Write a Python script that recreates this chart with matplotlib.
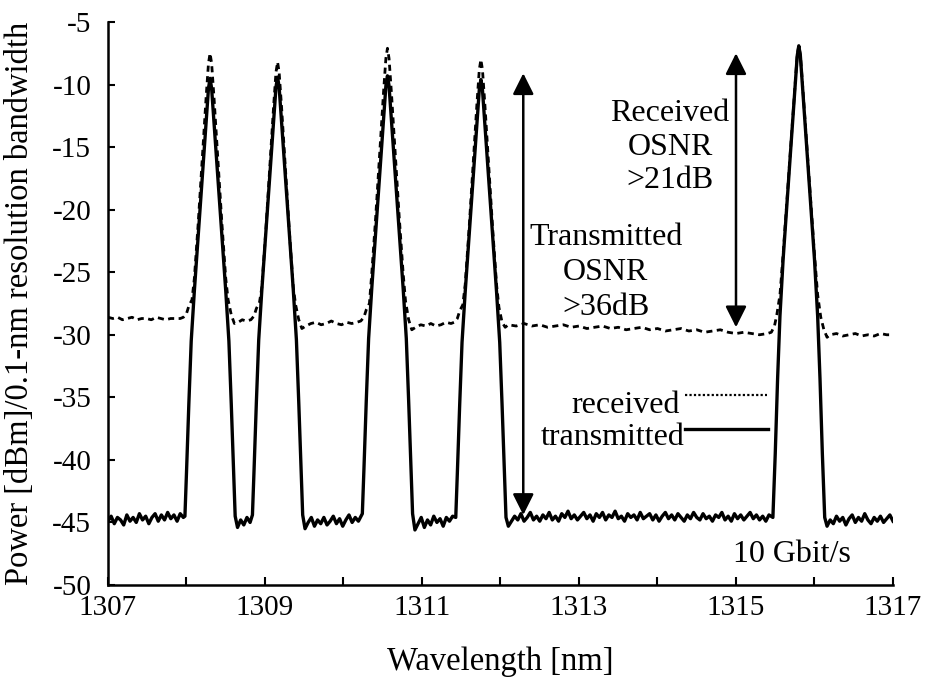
import numpy as np
import matplotlib.pyplot as plt
from matplotlib.lines import Line2D

plt.rcParams["font.family"] = ["Liberation Serif", "DejaVu Serif"]
plt.rcParams["axes.unicode_minus"] = False

# ---- transmitted spectrum (solid) ----
# noise floor pieces: (start nm, end nm, readings in dBm, evenly spaced)
tx_floor = [
    (1307.00, 1307.96, [-44.9, -44.5, -45.1, -44.6, -44.8, -45.2, -44.4, -44.9, -44.6, -45.0,
                        -44.3, -44.8, -44.5, -45.1, -44.6, -44.3, -44.9, -44.4, -44.8, -44.2,
                        -44.7, -44.4, -44.9, -44.3, -44.6]),
    (1308.65, 1308.81, [-45.4, -44.8, -45.2, -44.6, -45.0]),
    (1309.51, 1310.19, [-45.5, -45.0, -44.6, -45.3, -44.8, -45.1, -44.6, -45.2, -44.9, -44.5,
                        -45.1, -44.7, -45.3, -44.8, -44.4, -45.0, -44.6, -44.9]),
    (1310.91, 1311.39, [-45.6, -45.1, -44.6, -45.4, -44.8, -45.2, -44.5, -45.0, -44.7, -45.3,
                        -44.6, -44.9, -44.5]),
    (1312.10, 1315.42, [-45.3,
                        -44.9, -44.5, -44.8, -44.3, -44.9, -44.6, -44.2, -44.8, -44.5, -44.9,
                        -44.4, -44.7, -44.2, -44.8, -44.5, -44.9, -44.3, -44.6, -44.1, -44.7,
                        -44.4, -44.8, -44.5, -44.2, -44.7, -44.4, -44.9, -44.3, -44.6, -44.2,
                        -44.8, -44.4, -44.6, -44.1, -44.7, -44.5, -44.9, -44.3, -44.6, -44.4,
                        -44.8, -44.2, -44.7, -44.5, -44.3, -44.8, -44.4, -44.9, -44.5, -44.2,
                        -44.7, -44.4, -44.8, -44.3, -44.6, -44.9, -44.4, -44.7, -44.2, -44.6,
                        -44.8, -44.3, -44.7, -44.5, -44.9, -44.4, -44.6, -44.2, -44.8, -44.5,
                        -44.9, -44.3, -44.7, -44.4, -44.8, -44.5, -44.2, -44.7, -44.4, -44.8,
                        -44.5, -44.9, -44.4]),
    (1316.16, 1317.00, [-45.3,
                        -44.8, -45.1, -44.5, -44.9, -44.6, -45.2, -44.7, -44.4, -45.0, -44.6,
                        -44.9, -44.3, -44.8, -45.1, -44.6, -44.9, -44.5, -45.0, -44.7, -44.4,
                        -44.9]),
]

# channel peaks
tx_peak_nm = [
    [1307.98, 1308.00, 1308.03, 1308.06, 1308.10, 1308.15, 1308.20, 1308.25, 1308.28, 1308.30,
     1308.32, 1308.35, 1308.40, 1308.45, 1308.50, 1308.54, 1308.57, 1308.60, 1308.62],
    [1308.84, 1308.86, 1308.89, 1308.92, 1308.96, 1309.01, 1309.06, 1309.11, 1309.14, 1309.16,
     1309.18, 1309.21, 1309.26, 1309.31, 1309.36, 1309.40, 1309.43, 1309.46, 1309.48],
    [1310.24, 1310.26, 1310.29, 1310.32, 1310.36, 1310.41, 1310.46, 1310.51, 1310.54, 1310.56,
     1310.58, 1310.61, 1310.66, 1310.71, 1310.76, 1310.80, 1310.83, 1310.86, 1310.88],
    [1311.43, 1311.45, 1311.48, 1311.51, 1311.55, 1311.60, 1311.65, 1311.70, 1311.73, 1311.75,
     1311.77, 1311.80, 1311.85, 1311.90, 1311.95, 1311.99, 1312.02, 1312.05, 1312.07],
    [1315.47, 1315.50, 1315.53, 1315.56, 1315.60, 1315.65, 1315.70, 1315.75, 1315.78, 1315.80,
     1315.82, 1315.85, 1315.90, 1315.95, 1316.00, 1316.04, 1316.07, 1316.10, 1316.13],
]
tx_peak_dbm = [
    [-44.5, -41.0, -35.5, -30.5, -26.5, -22.0, -17.5, -13.0, -10.3, -9.5,
     -10.3, -13.0, -17.5, -22.0, -26.5, -30.5, -35.5, -41.0, -44.5],
    [-44.4, -40.9, -35.4, -30.4, -26.4, -21.9, -17.4, -12.9, -10.2, -9.4,
     -10.2, -12.9, -17.4, -21.9, -26.4, -30.4, -35.4, -40.9, -44.4],
    [-44.3, -40.8, -35.3, -30.3, -26.3, -21.8, -17.3, -12.8, -10.1, -9.3,
     -10.1, -12.8, -17.3, -21.8, -26.3, -30.3, -35.3, -40.8, -44.3],
    [-44.6, -41.1, -35.6, -30.6, -26.6, -22.1, -17.6, -13.1, -10.4, -9.6,
     -10.4, -13.1, -17.6, -22.1, -26.6, -30.6, -35.6, -41.1, -44.6],
    [-44.6, -39.5, -33.5, -28.5, -24.0, -19.4, -14.9, -10.4, -7.7, -6.9,
     -7.7, -10.4, -14.9, -19.4, -24.0, -28.5, -33.5, -39.5, -44.6],
]

# ---- received spectrum (dashed) ----
rx_floor = [
    (1307.00, 1307.92, [-28.6, -28.7, -28.6, -28.8, -28.7, -28.6, -28.8, -28.7, -28.7, -28.8,
                        -28.6, -28.7, -28.8, -28.7, -28.7, -28.7]),
    (1308.66, 1308.76, [-29.0, -28.8, -28.9]),
    (1309.52, 1310.17, [-29.3, -29.1, -29.0, -29.2, -29.1, -28.9, -29.1, -29.2, -29.0, -29.1, -29.0]),
    (1310.92, 1311.37, [-29.4, -29.2, -29.3, -29.1, -29.3, -29.2, -29.0, -29.1]),
    (1312.10, 1315.40, [-29.2, -29.3, -29.1, -29.3, -29.2, -29.4, -29.3, -29.2, -29.4, -29.3,
                        -29.5, -29.4, -29.3, -29.5, -29.4, -29.6, -29.5, -29.4, -29.6, -29.5,
                        -29.7, -29.6, -29.5, -29.7, -29.6, -29.8, -29.7, -29.6, -29.8, -29.9,
                        -29.8, -29.9, -30.0, -29.9]),
    (1316.20, 1317.00, [-30.0, -29.9, -30.1, -30.0, -29.9, -30.1, -30.0, -30.1, -29.9, -30.0, -30.0]),
]
rx_peak_nm = [
    [1307.96, 1308.00, 1308.03, 1308.07, 1308.10, 1308.15, 1308.20, 1308.25, 1308.28, 1308.30,
     1308.32, 1308.35, 1308.40, 1308.45, 1308.50, 1308.53, 1308.57, 1308.61],
    [1308.82, 1308.86, 1308.89, 1308.93, 1308.96, 1309.01, 1309.06, 1309.11, 1309.14, 1309.16,
     1309.18, 1309.21, 1309.26, 1309.31, 1309.36, 1309.39, 1309.43, 1309.47],
    [1310.22, 1310.26, 1310.29, 1310.33, 1310.36, 1310.41, 1310.46, 1310.51, 1310.54, 1310.56,
     1310.58, 1310.61, 1310.66, 1310.71, 1310.76, 1310.79, 1310.83, 1310.87],
    [1311.41, 1311.45, 1311.48, 1311.52, 1311.55, 1311.60, 1311.65, 1311.70, 1311.73, 1311.75,
     1311.77, 1311.80, 1311.85, 1311.90, 1311.95, 1311.98, 1312.02, 1312.06],
    [1315.45, 1315.49, 1315.52, 1315.56, 1315.60, 1315.65, 1315.70, 1315.75, 1315.78, 1315.80,
     1315.82, 1315.85, 1315.90, 1315.95, 1316.00, 1316.04, 1316.08, 1316.12, 1316.16],
]
rx_peak_dbm = [
    [-28.6, -28.3, -27.7, -27.2, -25.5, -21.0, -16.0, -11.0, -8.3, -7.5,
     -8.3, -11.0, -16.0, -21.0, -25.5, -27.2, -28.4, -29.1],
    [-28.8, -28.5, -27.9, -27.4, -26.2, -21.7, -16.7, -11.7, -9.0, -8.2,
     -9.0, -11.7, -16.7, -21.7, -26.2, -27.6, -28.8, -29.5],
    [-28.9, -28.6, -28.0, -27.5, -25.1, -20.6, -15.6, -10.6, -7.9, -7.1,
     -7.9, -10.6, -15.6, -20.6, -25.1, -27.3, -28.8, -29.6],
    [-29.0, -28.7, -28.1, -27.6, -26.0, -21.5, -16.5, -11.5, -8.8, -8.0,
     -8.8, -11.5, -16.5, -21.5, -26.0, -27.8, -29.0, -29.4],
    [-29.8, -29.3, -28.4, -26.8, -23.6, -19.2, -14.7, -10.2, -7.6, -6.9,
     -7.6, -10.2, -14.7, -19.2, -23.6, -26.8, -28.6, -29.6, -30.2],
]

# OSNR arrows: (wavelength, bottom dBm, top dBm)
tx_osnr_arrow = (1312.29, -44.4, -9.1)
rx_osnr_arrow = (1315.00, -29.4, -7.5)


def build(floor, peak_nm, peak_dbm):
    xs, ys = [], []
    for start, stop, vals in floor:
        xs.extend(np.linspace(start, stop, len(vals)))
        ys.extend(vals)
    for px, py in zip(peak_nm, peak_dbm):
        xs.extend(px)
        ys.extend(py)
    xs = np.array(xs)
    ys = np.array(ys)
    order = np.argsort(xs)
    return xs[order], ys[order]


tx_x, tx_y = build(tx_floor, tx_peak_nm, tx_peak_dbm)
rx_x, rx_y = build(rx_floor, rx_peak_nm, rx_peak_dbm)

fig = plt.figure(figsize=(9.28, 6.77), dpi=100)
ax = fig.add_axes([108 / 928, 92 / 677, 785 / 928, 563 / 677])

ax.plot(rx_x, rx_y, color="black", lw=2.0, dashes=(2.2, 1.6))
ax.plot(tx_x, tx_y, color="black", lw=2.4)

for x, lo, hi in (tx_osnr_arrow, rx_osnr_arrow):
    ax.annotate("", xy=(x, hi), xytext=(x, lo),
                arrowprops=dict(arrowstyle="<|-|>,head_length=0.4,head_width=0.2",
                                color="black", lw=1.8, mutation_scale=32,
                                shrinkA=0, shrinkB=0))

ax.text(1314.16, -15.0, "Received\nOSNR\n>21dB", fontsize=23, ha="center",
        va="center", multialignment="center", linespacing=1.22)
ax.text(1313.34, -25.0, "Transmitted\nOSNR\n>36dB", fontsize=23, ha="center",
        va="center", multialignment="center", linespacing=1.27)
ax.text(1315.71, -47.6, "10 Gbit/s", fontsize=23, ha="center", va="center")

# hand-made key, as in the original figure
ax.text(0.7287, 0.3055, "received", fontsize=23, ha="right", va="baseline",
        transform=ax.transAxes)
ax.text(0.735, 0.2487, "transmitted", fontsize=23, ha="right", va="baseline",
        transform=ax.transAxes)
ax.add_line(Line2D([0.735, 0.8395], [0.3375, 0.3375], color="black", lw=1.6,
                   linestyle=(0, (1, 1)), transform=ax.transAxes))
ax.add_line(Line2D([0.735, 0.8408], [0.2771, 0.2771], color="black", lw=2.4,
                   transform=ax.transAxes))

ax.set_xlim(1307, 1317)
ax.set_ylim(-50, -5)
ax.set_xticks(np.arange(1307, 1318, 2))
ax.set_xticks(np.arange(1308, 1317, 2), minor=True)
ax.set_yticks(np.arange(-50, -4, 5))
ax.tick_params(axis="both", which="both", direction="in", width=1.5, labelsize=21)
ax.tick_params(axis="x", which="both", length=6, pad=7)
ax.tick_params(axis="y", length=5, pad=12)

for side in ("top", "right"):
    ax.spines[side].set_visible(False)
for side in ("left", "bottom"):
    ax.spines[side].set_linewidth(1.8)

ax.set_xlabel("Wavelength [nm]", fontsize=23.5)
ax.set_ylabel("Power [dBm]/0.1-nm resolution bandwidth", fontsize=23.5)
ax.xaxis.label.set_va("center")
ax.yaxis.label.set_va("center")
ax.xaxis.set_label_coords(0.5, -0.137)
ax.yaxis.set_label_coords(-0.112, 0.5)

fig.savefig("out.png", dpi=100)
